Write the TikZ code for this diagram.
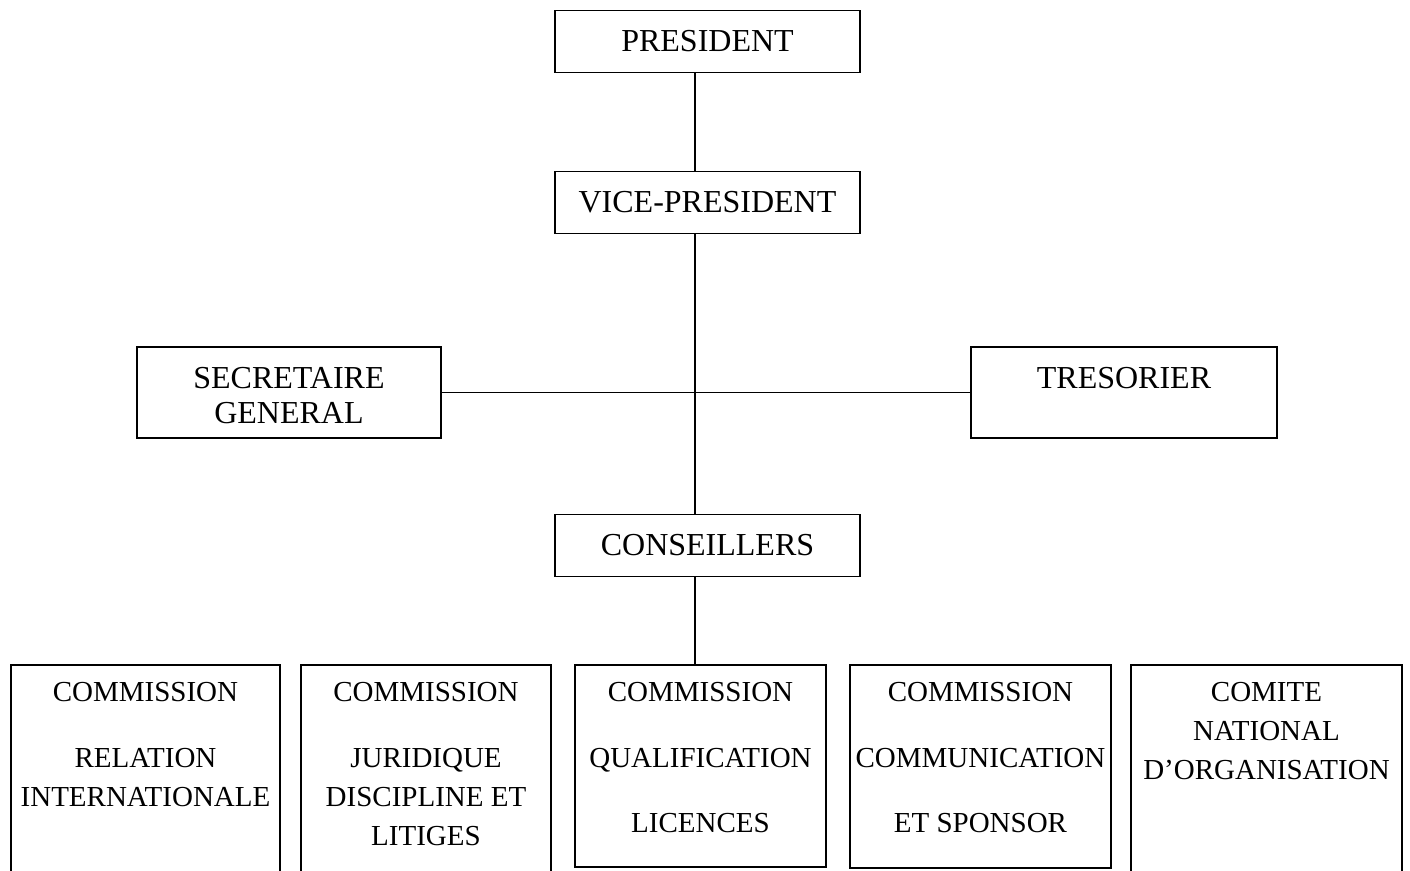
\documentclass[tikz,border=0pt]{standalone}
\usepackage{fontspec}
\setmainfont{Liberation Serif}
\usetikzlibrary{positioning}
\newcommand{\toprule}{\rule{0pt}{13.6pt}}

\begin{document}
\begin{tikzpicture}[
    x=0.5pt, y=-0.5pt,
    every node/.style={inner sep=0pt},
    office/.style={draw, line width=0.9pt, minimum width=152.5pt, minimum height=31pt,
      align=center, font=\fontsize{16}{17.5}\selectfont},
    commission/.style={draw, line width=0.9pt},
    commtext/.style={align=center, font=\fontsize{14.5}{19.5}\selectfont},
    link/.style={line width=0.9pt},
  ]
  \useasboundingbox (0,0) rectangle (1410,871);
  \clip (0,0) rectangle (1410,871);

  % bureau
  \node[office] (pres) at (707.5,41.5) {PRESIDENT};
  \node[office] (vice) at (707.5,202.5) {VICE-PRESIDENT};
  \node[office, minimum width=152pt, minimum height=45.5pt] (sec) at (289,392.5) {\toprule SECRETAIRE\\GENERAL};
  \node[office, minimum width=153pt, minimum height=45.5pt] (tres) at (1124,392.5) {\toprule TRESORIER\\~};
  \node[office] (cons) at (707.5,545.5) {CONSEILLERS};
  \coordinate (trunk) at (695,393);

  % commissions
  \node[commission, minimum width=134.5pt, minimum height=117.5pt] (rel) at (145.5,782.5) {};
  \node[commission, minimum width=125pt, minimum height=117.5pt] (jur) at (426,782.5) {};
  \node[commission, minimum width=125.5pt, minimum height=101pt] (qual) at (700.5,766) {};
  \node[commission, minimum width=130.5pt, minimum height=101.5pt] (com) at (980.5,766.5) {};
  \node[commission, minimum width=135.5pt, minimum height=117.5pt] (cno) at (1266.5,782.5) {};

  \node[commtext, below=4.8pt of rel.north] (rel-t)
    {\strut COMMISSION\\[13.5pt]RELATION\\INTERNATIONALE};
  \node[commtext, below=4.8pt of jur.north] (jur-t)
    {\strut COMMISSION\\[13.5pt]JURIDIQUE\\DISCIPLINE ET\\LITIGES};
  \node[commtext, below=4.8pt of qual.north] (qual-t)
    {\strut COMMISSION\\[13.5pt]QUALIFICATION\\[13pt]LICENCES};
  \node[commtext, below=4.8pt of com.north] (com-t)
    {\strut COMMISSION\\[13.5pt]COMMUNICATION\\[13pt]ET SPONSOR};
  \node[commtext, below=4.8pt of cno.north] (cno-t)
    {\strut COMITE\\NATIONAL\\D’ORGANISATION};

  % liaisons
  \draw[link] (trunk |- pres.south) -- (trunk |- vice.north);
  \draw[link] (trunk |- vice.south) -- (trunk |- cons.north);
  \draw[link] (sec.east) -- (tres.west);
  \draw[link] (trunk |- cons.south) -- (trunk |- qual.north);
\end{tikzpicture}
\end{document}
